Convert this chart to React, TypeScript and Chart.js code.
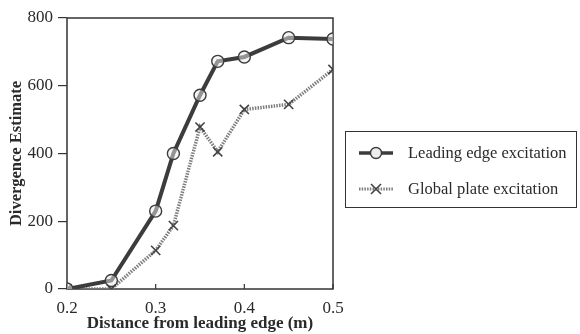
import React, { useEffect, useRef } from "react";
import { Chart, registerables } from "chart.js";
Chart.register(...registerables);

const distances = [0.2, 0.25, 0.3, 0.32, 0.35, 0.37, 0.4, 0.45, 0.5];
const leadingEdge = [0, 25, 230, 400, 572, 672, 685, 742, 738];
const globalPlate = [0, 0, 114, 187, 478, 405, 530, 545, 648];
const seriesLabels = ["Leading edge excitation", "Global plate excitation"];
const xTickValues = [0.2, 0.3, 0.4, 0.5];
const yTickValues = [0, 200, 400, 600, 800];
const xTitle = "Distance from leading edge (m)";
const yTitle = "Divergence Estimate";

const FONT = "'Liberation Serif', 'Times New Roman', serif";
const INK = "#2a2a2a";

const framePlugin = {
  id: "frame",
  beforeDatasetsDraw(chart: any) {
    const { ctx, chartArea, scales } = chart;
    const { left, top, right, bottom } = chartArea;
    ctx.save();
    ctx.strokeStyle = "#333";
    ctx.lineWidth = 1.5;
    ctx.strokeRect(left, top, right - left, bottom - top);
    ctx.lineWidth = 1.2;
    xTickValues.forEach((v) => {
      const px = scales.x.getPixelForValue(v);
      ctx.beginPath();
      ctx.moveTo(px, bottom);
      ctx.lineTo(px, bottom - 5);
      ctx.stroke();
    });
    ctx.restore();
  },
};

export default function App() {
  const ref = useRef<HTMLCanvasElement | null>(null);
  useEffect(() => {
    const canvas = ref.current!;
    const chart = new Chart(canvas, {
      type: "line",
      data: {
        datasets: [
          {
            label: seriesLabels[1],
            data: distances.map((x, i) => ({ x, y: globalPlate[i] })),
            borderColor: "#7d7d7d",
            borderWidth: 3.5,
            borderDash: [1.5, 1.2],
            pointStyle: "crossRot",
            pointRadius: 6.5,
            pointBorderColor: "#444",
            pointBorderWidth: 1.6,
            pointBackgroundColor: "#444",
            tension: 0,
            order: 2,
          },
          {
            label: seriesLabels[0],
            data: distances.map((x, i) => ({ x, y: leadingEdge[i] })),
            borderColor: "#3c3c3c",
            borderWidth: 4,
            pointStyle: "circle",
            pointRadius: 6,
            pointBorderColor: "#3c3c3c",
            pointBorderWidth: 1.4,
            pointBackgroundColor: "rgba(235,235,235,0.5)",
            tension: 0,
            order: 1,
          },
        ],
      },
      options: {
        animation: false,
        responsive: false,
        maintainAspectRatio: false,
        layout: { padding: { left: 0, top: 18, right: 247, bottom: 0 } },
        plugins: { legend: { display: false }, tooltip: { enabled: false } },
        scales: {
          x: {
            type: "linear",
            min: 0.2,
            max: 0.5,
            afterFit: (s: any) => {
              s.height = 45;
            },
            afterBuildTicks: (s: any) => {
              s.ticks = xTickValues.map((value) => ({ value }));
            },
            grid: { display: true, drawOnChartArea: false, drawTicks: false },
            border: { display: false },
            ticks: {
              padding: 9,
              color: INK,
              font: { family: FONT, size: 17 },
              callback: (v: any) => Number(v).toFixed(1),
            },
            title: {
              display: true,
              text: xTitle,
              color: INK,
              font: { family: FONT, size: 17, weight: "bold" },
              padding: { top: 0, bottom: 0 },
            },
          },
          y: {
            min: 0,
            max: 800,
            afterFit: (s: any) => {
              s.width = 67;
            },
            afterBuildTicks: (s: any) => {
              s.ticks = yTickValues.map((value) => ({ value }));
            },
            grid: {
              display: true,
              drawOnChartArea: false,
              drawTicks: true,
              tickLength: 9,
              color: "#333",
              lineWidth: 1.2,
            },
            border: { display: false },
            ticks: {
              padding: 5,
              color: INK,
              font: { family: FONT, size: 17 },
            },
            title: {
              display: true,
              text: yTitle,
              color: INK,
              font: { family: FONT, size: 16.5, weight: "bold" },
              padding: { top: 7, bottom: 0 },
            },
          },
        },
      },
      plugins: [framePlugin],
    });
    return () => chart.destroy();
  }, []);

  const legendRow = (i: number) => (
    <div
      key={i}
      style={{
        position: "absolute",
        left: 12,
        top: i === 0 ? 10 : 46,
        height: 22,
        display: "flex",
        alignItems: "center",
      }}
    >
      <svg width={36} height={20} style={{ marginRight: 14 }}>
        {i === 0 ? (
          <>
            <line x1={1} y1={10} x2={35} y2={10} stroke="#3c3c3c" strokeWidth={3.5} />
            <circle cx={18} cy={10} r={5.5} fill="#eee" stroke="#3c3c3c" strokeWidth={1.4} />
          </>
        ) : (
          <>
            <line x1={1} y1={10} x2={35} y2={10} stroke="#7d7d7d" strokeWidth={3} strokeDasharray="1.5 1.2" />
            <line x1={13} y1={5} x2={23} y2={15} stroke="#444" strokeWidth={1.6} />
            <line x1={23} y1={5} x2={13} y2={15} stroke="#444" strokeWidth={1.6} />
          </>
        )}
      </svg>
      <span style={{ fontFamily: FONT, fontSize: 16.5, color: INK, whiteSpace: "nowrap" }}>
        {seriesLabels[i]}
      </span>
    </div>
  );

  return (
    <div
      style={{
        position: "fixed",
        left: 0,
        top: 0,
        width: 580,
        height: 334,
        background: "#fff",
        overflow: "hidden",
      }}
    >
      <canvas ref={ref} width={580} height={334} style={{ position: "absolute", left: 0, top: 0 }} />
      <div
        style={{
          position: "absolute",
          left: 345,
          top: 131,
          width: 232,
          height: 77,
          boxSizing: "border-box",
          border: "1.5px solid #333",
        }}
      >
        {legendRow(0)}
        {legendRow(1)}
      </div>
    </div>
  );
}
